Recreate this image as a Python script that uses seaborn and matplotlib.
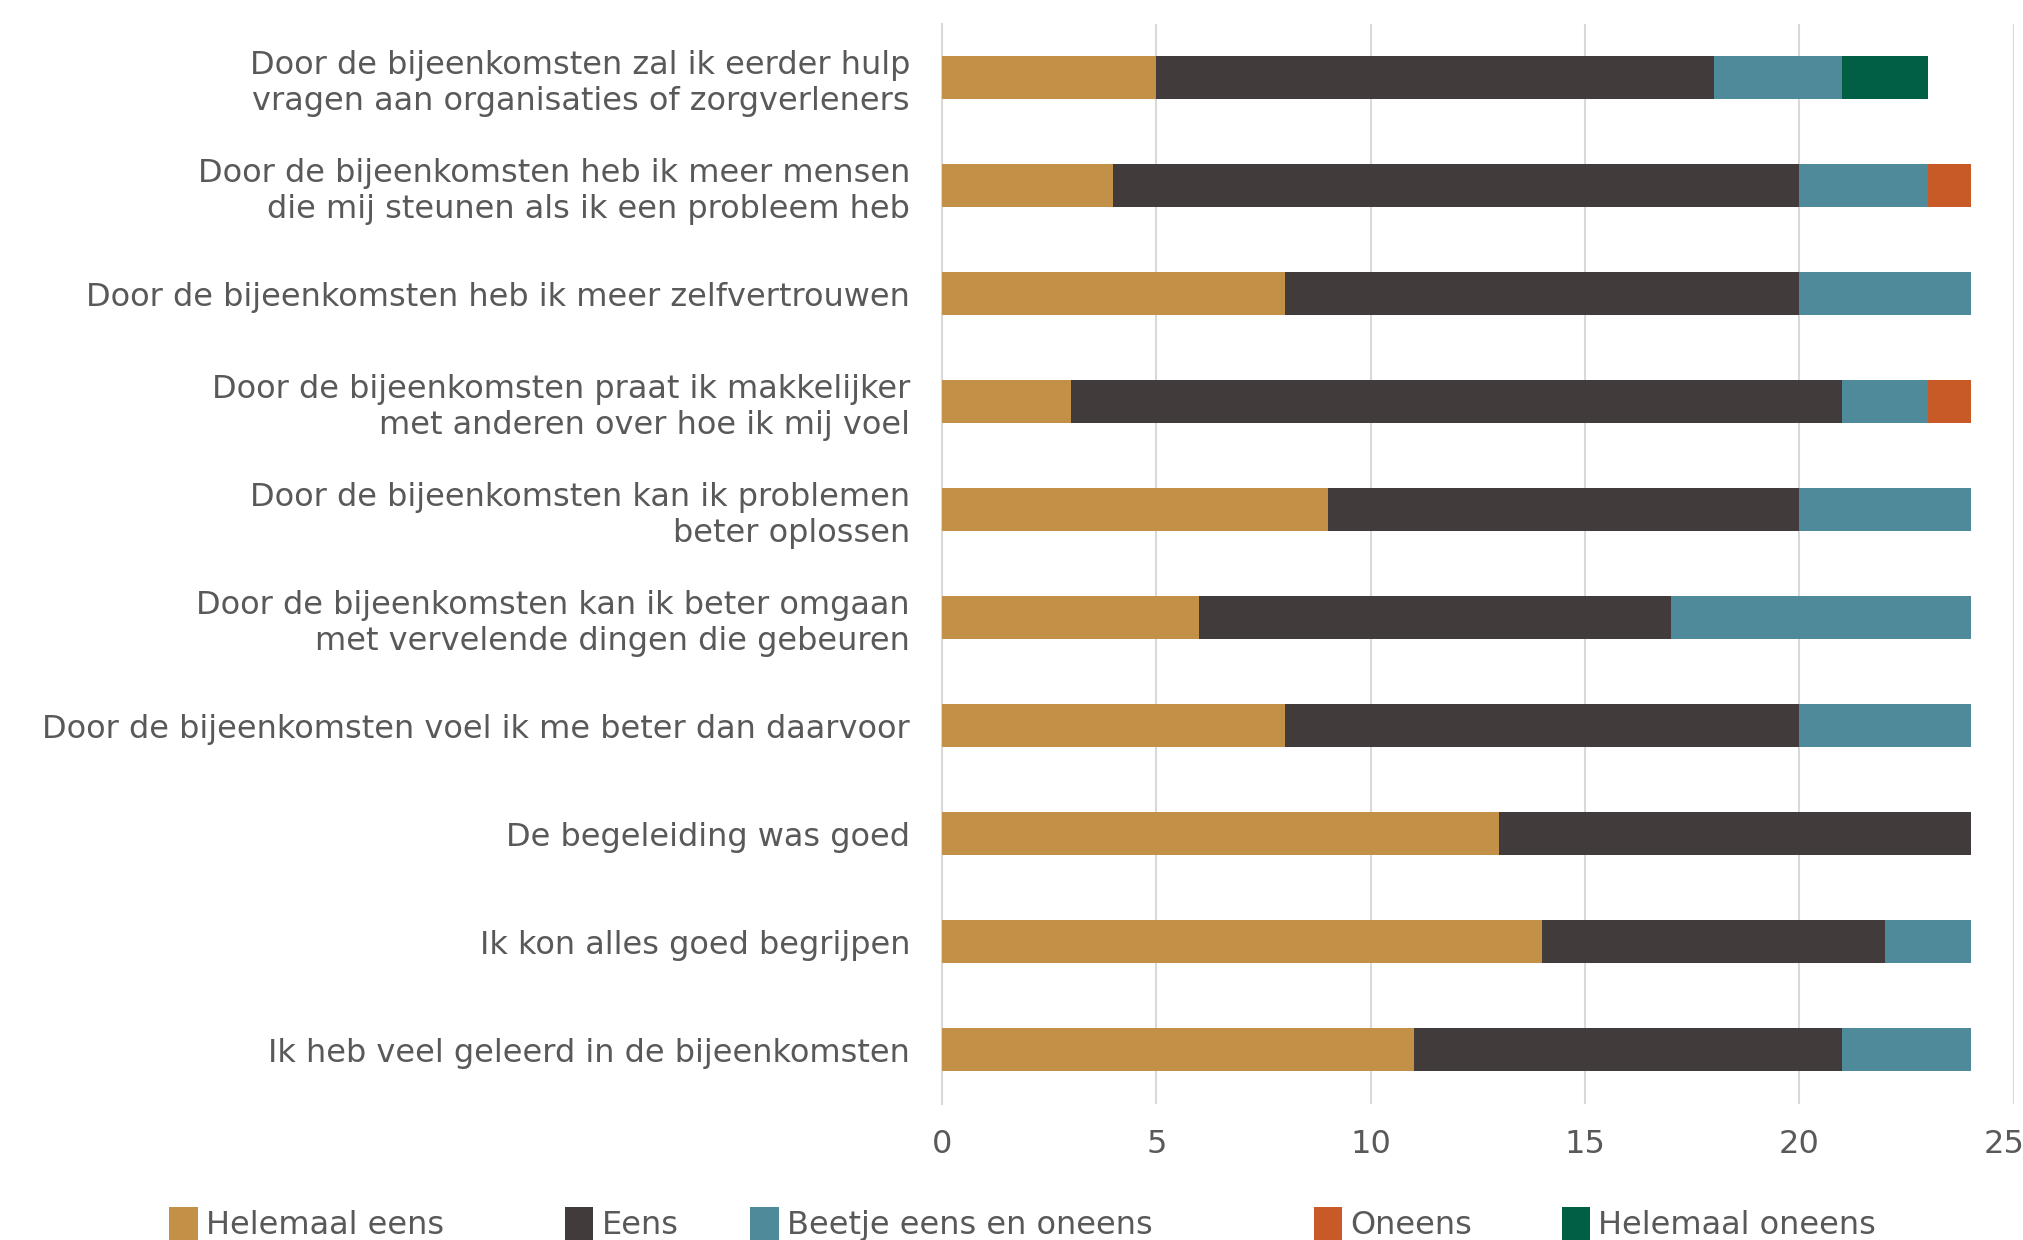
import matplotlib
matplotlib.use("Agg")
import matplotlib.pyplot as plt
import seaborn as sns
import pandas as pd
import numpy as np
from matplotlib.patches import Patch
from matplotlib.transforms import ScaledTranslation

categories = [
    "Door de bijeenkomsten zal ik eerder hulp\nvragen aan organisaties of zorgverleners",
    "Door de bijeenkomsten heb ik meer mensen\ndie mij steunen als ik een probleem heb",
    "Door de bijeenkomsten heb ik meer zelfvertrouwen",
    "Door de bijeenkomsten praat ik makkelijker\nmet anderen over hoe ik mij voel",
    "Door de bijeenkomsten kan ik problemen\nbeter oplossen",
    "Door de bijeenkomsten kan ik beter omgaan\nmet vervelende dingen die gebeuren",
    "Door de bijeenkomsten voel ik me beter dan daarvoor",
    "De begeleiding was goed",
    "Ik kon alles goed begrijpen",
    "Ik heb veel geleerd in de bijeenkomsten",
]
series_names = ["Helemaal eens", "Eens", "Beetje eens en oneens", "Oneens", "Helemaal oneens"]
helemaal_eens = [5, 4, 8, 3, 9, 6, 8, 13, 14, 11]
eens = [13, 16, 12, 18, 11, 11, 12, 11, 8, 10]
beetje = [3, 3, 4, 2, 4, 7, 4, 0, 2, 3]
oneens = [0, 1, 0, 1, 0, 0, 0, 0, 0, 0]
helemaal_oneens = [2, 0, 0, 0, 0, 0, 0, 0, 0, 0]
colors = ["#C39048", "#413B3B", "#4F8A9A", "#C85A27", "#005F45"]
xticks = [0, 5, 10, 15, 20, 25]

values = [helemaal_eens, eens, beetje, oneens, helemaal_oneens]
cum = np.cumsum(np.array(values), axis=0)

sns.set_theme(style="white")
plt.rcParams['font.family'] = ['DejaVu Sans']
text_color = "#595959"
fs = 23

fig = plt.figure(figsize=(20.24, 12.4), dpi=100)
ax = fig.add_axes([0.4654, 0.110, 0.5296, 0.871])

for i in range(len(series_names) - 1, -1, -1):
    df = pd.DataFrame({"cat": categories, "val": cum[i]})
    sns.barplot(data=df, x="val", y="cat", orient="h", color=colors[i],
                saturation=1, width=0.4, ax=ax, linewidth=0, edgecolor="none",
                zorder=3 + (5 - i) * 0.01)

ax.set_xlim(0, 25)
ax.set_ylim(9.5, -0.5)
ax.set_xticks(xticks)
ax.set_xticklabels([str(t) for t in xticks])
ax.grid(axis="x", color="#D9D9D9", linewidth=1.5, zorder=0)
ax.grid(axis="y", visible=False)
ax.set_axisbelow(True)
for s in ["top", "right", "bottom"]:
    ax.spines[s].set_visible(False)
ax.spines["left"].set_color("#D9D9D9")
ax.spines["left"].set_linewidth(1.5)
ax.set_xlabel("")
ax.set_ylabel("")
ax.tick_params(axis="both", length=0, labelsize=fs, colors=text_color)
ax.tick_params(axis="y", pad=23)
ax.tick_params(axis="x", pad=18)
for lbl in ax.get_yticklabels():
    lbl.set_horizontalalignment("right")
    lbl.set_multialignment("right")
    lbl.set_linespacing(1.2)
last = ax.get_xticklabels()[-1]
last.set_transform(last.get_transform() + ScaledTranslation(-10 / 100, 0, fig.dpi_scale_trans))

legend_x = [0.0835, 0.279, 0.3705, 0.649, 0.7715]
for name, c, lx in zip(series_names, colors, legend_x):
    h = Patch(facecolor=c, edgecolor="none", label=name)
    fig.legend(handles=[h], loc="center left", bbox_to_anchor=(lx, 0.013),
               frameon=False, fontsize=fs, labelcolor=text_color,
               handlelength=0.9, handleheight=1.2, handletextpad=0.25,
               borderpad=0, borderaxespad=0)

fig.savefig("out.png", dpi=100, facecolor="white")
